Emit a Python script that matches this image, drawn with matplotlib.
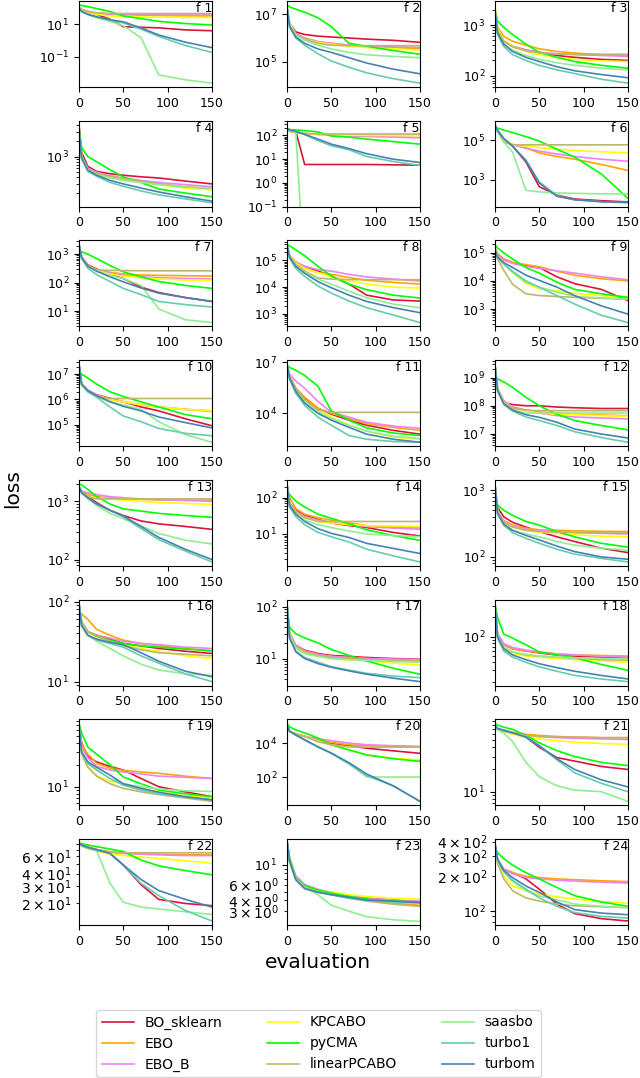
import matplotlib
matplotlib.use("Agg")
import matplotlib.pyplot as plt

evals = [0, 3, 10, 20, 35, 50, 70, 90, 120, 150]

methods = ["BO_sklearn", "EBO", "EBO_B", "KPCABO", "pyCMA",
           "linearPCABO", "saasbo", "turbo1", "turbom"]
colors = ["crimson", "orange", "violet", "yellow", "lime",
          "darkkhaki", "lightgreen", "mediumaquamarine", "steelblue"]

# one row per method, same order as `methods`
f1 = [[100, 70, 55, 40, 20, 7, 6.5, 6, 4.5, 4],
      [110, 80, 60, 45, 40, 38, 36, 34, 32, 32],
      [110, 80, 60, 45, 40, 40, 38, 37, 37, 37],
      [100, 75, 55, 40, 32, 30, 28, 27, 26, 26],
      [150, 140, 120, 90, 60, 32, 22, 15, 11, 9],
      [110, 80, 60, 50, 46, 45, 45, 45, 45, 45],
      [100, 60, 40, 25, 15, 8, 1.5, 0.008, 0.004, 0.0025],
      [100, 60, 40, 28, 18, 12, 5, 1.8, 0.5, 0.19],
      [100, 60, 40, 28, 19, 14, 6, 2.2, 0.8, 0.37]]
f2 = [[2e7, 4e6, 1.8e6, 1.4e6, 1.2e6, 1.1e6, 1e6, 9e5, 8e5, 6.6e5],
      [2e7, 4e6, 1.5e6, 1e6, 7e5, 6e5, 5e5, 4.5e5, 4e5, 3.5e5],
      [2e7, 4e6, 1.5e6, 1e6, 7e5, 6e5, 5e5, 4.6e5, 4.3e5, 4e5],
      [2e7, 4e6, 1.4e6, 9e5, 6.5e5, 5.5e5, 4.5e5, 4e5, 3.5e5, 3.1e5],
      [2.4e7, 2e7, 1.6e7, 1.2e7, 7e6, 3e6, 6e5, 4.5e5, 3e5, 2.1e5],
      [2e7, 4e6, 1.4e6, 9e5, 6e5, 5e5, 4.8e5, 4.8e5, 4.8e5, 4.8e5],
      [2e7, 4e6, 1.3e6, 8e5, 5e5, 3.5e5, 2.5e5, 2e5, 1.7e5, 1.5e5],
      [2e7, 3e6, 1e6, 5e5, 2.2e5, 1.1e5, 6e4, 3.5e4, 2e4, 1.3e4],
      [2e7, 3e6, 1.1e6, 6e5, 3.5e5, 2.5e5, 1.5e5, 9e4, 5e4, 3.2e4]]
f3 = [[2000, 800, 480, 380, 320, 290, 250, 230, 210, 200],
      [2200, 900, 600, 480, 400, 340, 300, 280, 260, 250],
      [2000, 800, 480, 380, 320, 290, 270, 260, 250, 240],
      [2500, 850, 500, 380, 300, 260, 230, 210, 195, 190],
      [2000, 1200, 900, 650, 420, 290, 230, 190, 160, 140],
      [2000, 800, 480, 370, 310, 280, 270, 265, 265, 265],
      [2000, 700, 420, 320, 250, 210, 180, 160, 140, 130],
      [2000, 650, 380, 260, 200, 160, 130, 110, 85, 71],
      [2000, 700, 420, 300, 230, 190, 150, 125, 105, 91]]
f4 = [[4100, 1200, 650, 520, 470, 440, 410, 390, 340, 300],
      [3000, 1000, 580, 480, 420, 380, 340, 300, 260, 235],
      [3000, 1000, 600, 500, 430, 390, 350, 320, 290, 265],
      [3000, 900, 550, 460, 400, 360, 320, 290, 250, 230],
      [3500, 1500, 1000, 800, 560, 410, 320, 240, 200, 170],
      [3000, 1000, 580, 480, 420, 380, 340, 300, 265, 245],
      [3000, 1000, 560, 450, 390, 350, 320, 290, 260, 250],
      [3000, 900, 520, 420, 320, 270, 220, 185, 155, 130],
      [3000, 950, 550, 440, 350, 300, 250, 210, 170, 140]]
f5 = [[200, 170, 150, 6, 6, 6, 6, 6, 5.8, 5.6],
      [200, 150, 130, 120, 110, 105, 102, 100, 100, 100],
      [200, 150, 130, 120, 110, 100, 95, 90, 85, 80],
      [200, 150, 130, 120, 110, 105, 102, 100, 100, 100],
      [180, 175, 170, 160, 140, 95, 85, 70, 55, 43],
      [200, 150, 130, 120, 115, 115, 115, 115, 115, 115],
      [200, 170, 130, 1e-4, 1e-4, 1e-4, 1e-4, 1e-4, 1e-4, 1e-4],
      [200, 170, 150, 110, 60, 37, 25, 13, 8, 5.5],
      [200, 170, 150, 110, 70, 43, 28, 17, 10, 7.3]]
f6 = [[6e5, 3e5, 1.2e5, 5e4, 8e3, 460, 170, 110, 90, 78],
      [6e5, 3e5, 1e5, 6e4, 4e4, 2.3e4, 1.5e4, 1.1e4, 6e3, 3e3],
      [6e5, 3e5, 1e5, 6e4, 4e4, 2.8e4, 2e4, 1.5e4, 1.1e4, 8.7e3],
      [6e5, 3e5, 1e5, 6e4, 5e4, 4.2e4, 3.5e4, 3e4, 2.6e4, 2.3e4],
      [4.5e5, 4e5, 3.2e5, 2.4e5, 1.5e5, 9e4, 3.5e4, 1.4e4, 2e3, 120],
      [6e5, 3e5, 8e4, 5.8e4, 5.8e4, 5.8e4, 5.8e4, 5.8e4, 5.8e4, 5.8e4],
      [6e5, 2.5e5, 8e4, 2.5e4, 300, 250, 220, 210, 200, 200],
      [6e5, 3e5, 1.2e5, 5e4, 1e4, 800, 160, 100, 80, 70],
      [6e5, 3e5, 1.2e5, 5e4, 9e3, 700, 150, 100, 80, 74]]
f7 = [[2200, 800, 420, 300, 200, 140, 70, 45, 30, 22],
      [2200, 800, 400, 280, 230, 200, 185, 180, 175, 170],
      [2200, 800, 400, 280, 220, 180, 160, 150, 140, 135],
      [2200, 800, 380, 260, 200, 170, 150, 135, 125, 120],
      [1300, 1200, 1000, 700, 400, 240, 160, 110, 80, 63],
      [2200, 800, 400, 280, 270, 265, 262, 260, 260, 260],
      [2200, 750, 380, 260, 180, 140, 80, 12, 5, 4],
      [2200, 700, 320, 190, 110, 63, 38, 22, 17, 14],
      [2200, 750, 380, 250, 160, 107, 65, 43, 30, 22]]
f8 = [[4e5, 1.5e5, 8e4, 6e4, 4e4, 2.6e4, 1.3e4, 5e3, 3.3e3, 3e3],
      [4e5, 1.5e5, 8e4, 5e4, 3.5e4, 3e4, 2.3e4, 1.8e4, 1.5e4, 1.3e4],
      [4e5, 1.5e5, 9e4, 6e4, 4.5e4, 4e4, 3e4, 2.4e4, 2e4, 1.7e4],
      [4e5, 1.5e5, 8e4, 5e4, 3.5e4, 2.5e4, 1.7e4, 1.3e4, 1e4, 9.2e3],
      [4e5, 3.5e5, 2.5e5, 1.5e5, 6e4, 2.6e4, 1.3e4, 8e3, 5e3, 3.9e3],
      [4e5, 1.5e5, 7e4, 4e4, 2.2e4, 2e4, 1.9e4, 1.9e4, 1.9e4, 1.9e4],
      [4e5, 1.3e5, 6e4, 3.5e4, 2e4, 1.3e4, 7e3, 4e3, 2.3e3, 1.7e3],
      [4e5, 1.2e5, 5e4, 2.5e4, 1.1e4, 6e3, 3e3, 1.7e3, 900, 470],
      [4e5, 1.3e5, 6e4, 3.3e4, 1.6e4, 9.5e3, 5e3, 2.9e3, 1.7e3, 1.1e3]]
f9 = [[1.5e5, 9e4, 6e4, 4.5e4, 3.5e4, 3e4, 1.4e4, 8e3, 5e3, 2e3],
      [1.5e5, 9e4, 6e4, 4.5e4, 3.8e4, 3.2e4, 2.2e4, 1.6e4, 1.2e4, 1e4],
      [1.3e5, 8e4, 5.5e4, 4.2e4, 3.3e4, 2.8e4, 2.3e4, 1.9e4, 1.4e4, 1.1e4],
      [1.3e5, 7e4, 4e4, 2e4, 8e3, 5.3e3, 4.5e3, 3.6e3, 3e3, 2.7e3],
      [2e5, 1.5e5, 1e5, 6e4, 3e4, 1.9e4, 9e3, 5e3, 3.5e3, 2.6e3],
      [1.3e5, 6e4, 2.4e4, 7.6e3, 3.5e3, 3e3, 2.8e3, 2.6e3, 2.4e3, 2.2e3],
      [1.3e5, 7e4, 4e4, 2e4, 9e3, 6e3, 4e3, 2.8e3, 2.5e3, 2.3e3],
      [1.3e5, 7e4, 4e4, 2.2e4, 1e4, 6e3, 3e3, 1.5e3, 600, 330],
      [1.3e5, 7e4, 4.5e4, 3e4, 1.6e4, 1.05e4, 6e3, 3e3, 1.3e3, 660]]
f10 = [[2.5e7, 4e6, 2.3e6, 1.5e6, 1.1e6, 8e5, 5e5, 3.5e5, 1.7e5, 9e4],
       [2.5e7, 4e6, 2.3e6, 1.5e6, 1e6, 8e5, 6e5, 5e5, 4e5, 3.3e5],
       [2.5e7, 4e6, 2.3e6, 1.5e6, 1e6, 8e5, 6e5, 5e5, 4e5, 3.5e5],
       [2.5e7, 3.5e6, 2e6, 1.3e6, 1e6, 8e5, 6e5, 5e5, 4e5, 3.5e5],
       [1.2e7, 1e7, 7e6, 4e6, 2e6, 1.3e6, 8e5, 5e5, 2.5e5, 1.7e5],
       [2.5e7, 4e6, 2e6, 1.3e6, 1.08e6, 1.08e6, 1.08e6, 1.08e6, 1.08e6, 1.08e6],
       [2.5e7, 4e6, 2e6, 1.3e6, 8e5, 6e5, 4e5, 1.3e5, 4e4, 2e4],
       [2.5e7, 4e6, 2e6, 1.2e6, 5e5, 2.2e5, 1.3e5, 7e4, 4.5e4, 3.6e4],
       [2.5e7, 4e6, 2.2e6, 1.4e6, 8e5, 5.3e5, 3.5e5, 2e5, 1.2e5, 7.4e4]]
f11 = [[8e6, 1.5e6, 3e5, 8e4, 2e4, 9e3, 4e3, 2e3, 1e3, 600],
       [8e6, 1.5e6, 3e5, 9e4, 2e4, 1e4, 5e3, 2.5e3, 1.5e3, 1e3],
       [8e6, 2e6, 8e5, 3e5, 5e4, 1.2e4, 6e3, 3e3, 1.8e3, 1.3e3],
       [8e6, 1.2e6, 2e5, 6e4, 1.5e4, 6e3, 2e3, 900, 400, 300],
       [7e6, 5e6, 3.5e6, 1.7e6, 4e5, 1.4e4, 4e3, 1.4e3, 700, 500],
       [8e6, 1.5e6, 3e5, 6e4, 1.6e4, 1.15e4, 1.15e4, 1.15e4, 1.15e4, 1.15e4],
       [8e6, 1.2e6, 2e5, 5e4, 1.2e4, 5e3, 2e3, 900, 450, 330],
       [8e6, 1e6, 1.5e5, 3e4, 6e3, 2e3, 500, 300, 220, 200],
       [8e6, 1.2e6, 2e5, 4e4, 1e4, 4e3, 1.5e3, 600, 300, 200]]
f12 = [[3e9, 4e8, 1.3e8, 1.1e8, 1e8, 1e8, 9e7, 8.5e7, 8e7, 8e7],
       [3e9, 4e8, 1.5e8, 9e7, 7e7, 6e7, 5.5e7, 5e7, 4.7e7, 4.4e7],
       [3e9, 4e8, 1.5e8, 9e7, 7e7, 5.5e7, 4.5e7, 4e7, 3.7e7, 3.4e7],
       [3e9, 4e8, 1.3e8, 8e7, 6.5e7, 5.5e7, 5e7, 4.8e7, 4.5e7, 4.2e7],
       [1e9, 9e8, 7e8, 4.5e8, 2e8, 1e8, 5e7, 3e7, 2e7, 1.4e7],
       [3e9, 4e8, 1.2e8, 8e7, 7e7, 6.7e7, 6.7e7, 6.7e7, 6.7e7, 6.7e7],
       [3e9, 3.5e8, 1.2e8, 7e7, 5.5e7, 5.5e7, 5.5e7, 5.5e7, 5.5e7, 5.5e7],
       [3e9, 3.5e8, 1.1e8, 6.5e7, 4e7, 3e7, 2e7, 1.2e7, 7.5e6, 5.1e6],
       [3e9, 3.5e8, 1.2e8, 7e7, 4.8e7, 3.9e7, 2.6e7, 1.5e7, 1e7, 7.2e6]]
f13 = [[1800, 1500, 1200, 950, 700, 570, 460, 410, 370, 330],
       [1800, 1500, 1300, 1200, 1150, 1100, 1080, 1060, 1050, 1040],
       [1800, 1500, 1400, 1300, 1200, 1150, 1100, 1060, 1030, 1000],
       [1800, 1400, 1200, 1150, 1100, 1050, 1000, 950, 920, 885],
       [2000, 1900, 1600, 1200, 900, 740, 680, 620, 570, 530],
       [1800, 1400, 1200, 1100, 1100, 1100, 1100, 1100, 1100, 1100],
       [1800, 1400, 1100, 850, 620, 500, 380, 280, 215, 185],
       [1800, 1400, 1150, 900, 700, 540, 340, 220, 140, 91],
       [1800, 1400, 1150, 900, 700, 560, 370, 240, 150, 100]]
f14 = [[240, 70, 45, 33, 25, 20, 17, 15, 11, 8.8],
       [240, 100, 50, 35, 28, 24, 20, 17, 15.5, 14.6],
       [240, 70, 42, 30, 24, 21, 18, 16, 14.5, 13.5],
       [240, 65, 40, 28, 22, 20, 18, 17, 16.5, 16],
       [145, 120, 80, 55, 35, 27, 19, 13, 9, 6.7],
       [240, 65, 40, 28, 22, 22, 22, 22, 22, 22],
       [240, 60, 35, 24, 18, 15, 12, 10, 9, 8.4],
       [240, 55, 30, 18, 11, 8.4, 6, 3.8, 2.5, 1.7],
       [240, 60, 35, 22, 14, 10.4, 8, 5.5, 4, 2.9]]
f15 = [[1250, 550, 400, 330, 280, 240, 200, 170, 135, 116],
       [1250, 500, 350, 300, 270, 255, 250, 245, 242, 240],
       [1250, 500, 340, 290, 260, 250, 240, 232, 225, 220],
       [1250, 480, 330, 280, 250, 235, 225, 215, 205, 200],
       [670, 600, 500, 420, 340, 300, 240, 200, 160, 140],
       [1250, 480, 330, 280, 250, 240, 235, 232, 230, 230],
       [1250, 450, 300, 250, 220, 200, 170, 150, 135, 126],
       [1250, 450, 300, 230, 190, 160, 130, 110, 95, 84],
       [1250, 450, 310, 250, 210, 180, 145, 120, 100, 92]]
f16 = [[95, 55, 42, 38, 34, 30, 28, 26, 24, 22.5],
       [75, 70, 60, 45, 38, 33, 30, 28, 26, 24],
       [95, 55, 42, 38, 35, 32, 30, 29, 27, 26],
       [95, 55, 42, 36, 32, 29, 26, 24, 21, 19.5],
       [95, 55, 42, 37, 33, 30, 28, 27, 25.5, 24.5],
       [95, 55, 42, 37, 32, 28, 25, 23, 22, 21],
       [95, 50, 38, 32, 26, 21, 16.5, 14, 12.5, 12],
       [95, 50, 38, 33, 30, 27, 21, 17, 12.5, 10],
       [95, 50, 38, 34, 31, 29, 23, 18, 13.5, 11.5]]
f17 = [[115, 30, 18, 14.5, 12.5, 11.5, 11, 10.5, 10, 9.7],
       [115, 30, 18, 14, 12, 11, 10.5, 10, 9.5, 9.2],
       [115, 30, 18, 14, 12, 11, 10.5, 10, 9.8, 9.6],
       [115, 28, 16, 12.5, 11, 10, 9.5, 9, 8.2, 7.5],
       [100, 40, 30, 25, 20, 15, 11.5, 9, 6.5, 5],
       [115, 28, 17, 13.5, 11.5, 10.5, 10, 9.5, 9.2, 9],
       [115, 28, 16, 12.5, 11, 10, 9.5, 9.2, 8.8, 8.5],
       [115, 25, 14, 10.5, 8.5, 7, 6, 5.2, 4.6, 4.3],
       [115, 25, 13.5, 10, 8, 6.8, 5.8, 5, 4.2, 3.6]]
f18 = [[330, 110, 75, 65, 60, 56, 52, 50, 48, 47],
       [330, 110, 75, 65, 60, 57, 54, 52, 51, 50],
       [330, 110, 78, 68, 62, 58, 54, 52, 50, 48],
       [330, 100, 65, 55, 50, 48, 46, 44, 42, 40],
       [330, 200, 110, 95, 75, 58, 52, 47, 37, 30],
       [330, 100, 68, 58, 52, 50, 48, 46, 44, 43],
       [330, 100, 68, 58, 53, 50, 48, 47, 46, 45],
       [330, 95, 60, 48, 40, 34, 29, 25, 22, 20],
       [330, 100, 65, 52, 44, 38, 33, 29, 25, 22]]
f19 = [[70, 40, 26, 22, 19, 17, 13, 10, 8.5, 7.3],
       [70, 38, 28, 21, 18, 16.8, 16, 15.3, 14, 13],
       [70, 35, 25, 19, 17, 16, 15, 14, 13.5, 13],
       [70, 30, 19, 14, 12, 11, 9.5, 8.5, 7.5, 7],
       [75, 55, 35, 28, 20, 13.6, 11, 9, 8, 7.3],
       [70, 28, 18.6, 14, 11, 9.5, 8.5, 7.8, 7, 6.3],
       [70, 30, 21, 17, 13, 11, 10, 9.3, 8.8, 8.6],
       [70, 30, 21, 17, 13, 10.5, 9, 8, 7.2, 6.6],
       [70, 30, 22, 18.5, 14.5, 11, 9.5, 8.4, 7.3, 6.6]]
f20 = [[1.2e5, 5e4, 3.5e4, 2.5e4, 1.5e4, 1e4, 7e3, 5e3, 3.5e3, 2.5e3],
       [1.2e5, 5e4, 3.5e4, 2.5e4, 1.5e4, 1.1e4, 8e3, 7e3, 6.5e3, 6e3],
       [1.2e5, 5e4, 3.5e4, 2.5e4, 1.8e4, 1.4e4, 1e4, 8e3, 7e3, 6.4e3],
       [1.2e5, 5e4, 3.5e4, 2.5e4, 1.3e4, 8e3, 4e3, 2e3, 1.3e3, 1e3],
       [1.5e5, 9e4, 6e4, 4e4, 2e4, 8e3, 4e3, 2e3, 1.2e3, 840],
       [1.2e5, 5e4, 3.5e4, 2.5e4, 1.2e4, 8e3, 6e3, 5.8e3, 5.8e3, 5.8e3],
       [1.2e5, 5e4, 3e4, 1.5e4, 6e3, 2.5e3, 600, 100, 100, 100],
       [1.2e5, 5e4, 3e4, 1.5e4, 6e3, 2.5e3, 600, 120, 30, 3.7],
       [1.2e5, 5e4, 3e4, 1.6e4, 6e3, 2.6e3, 700, 150, 30, 3.7]]
f21 = [[80, 70, 66, 62, 55, 40, 29, 26, 22, 20],
       [80, 72, 68, 64, 60, 58, 56, 55, 54, 54],
       [80, 72, 68, 63, 58, 56, 54, 53, 52, 51],
       [80, 70, 66, 60, 55, 52, 49, 47, 45, 44],
       [85, 80, 75, 70, 58, 46, 36, 30, 25, 22.6],
       [80, 70, 66, 62, 58, 56, 55, 55, 54, 54],
       [80, 70, 62, 48, 25, 16, 12, 10.5, 10, 7.4],
       [80, 72, 68, 63, 55, 42, 27, 18, 13, 10],
       [80, 72, 68, 63, 55, 42, 28, 20, 14.5, 11.6]]
f22 = [[82, 78, 74, 70, 64, 49, 31, 22, 20, 19],
       [82, 78, 74, 70, 67, 65, 64, 63, 62, 62],
       [82, 78, 74, 70, 66, 64, 63, 62, 61, 61],
       [82, 76, 72, 68, 63, 61, 59, 57, 54, 51],
       [82, 80, 78, 75, 71, 67, 55, 48, 43, 39],
       [82, 76, 72, 68, 66, 65, 65, 65, 65, 65],
       [82, 78, 74, 68, 32, 20.6, 18.4, 17.6, 16.5, 15.5],
       [82, 78, 74, 70, 64, 49, 32, 24, 17, 13.3],
       [82, 78, 74, 70, 64, 49, 35, 27, 22, 18.4]]
f23 = [[19, 11, 7, 5.6, 5.1, 4.8, 4.4, 4.2, 4.0, 3.8],
       [19, 11, 7, 5.7, 5.2, 4.8, 4.3, 4.0, 3.7, 3.5],
       [19, 12, 7.5, 6, 5.3, 4.9, 4.5, 4.2, 4.0, 3.9],
       [19, 11, 7, 5.6, 5.2, 4.9, 4.6, 4.4, 4.2, 4.1],
       [19, 12, 7.2, 5.8, 5.2, 4.8, 4.4, 4.1, 3.9, 3.8],
       [19, 11, 7, 5.5, 5.0, 4.6, 4.2, 3.9, 3.6, 3.4],
       [19, 11, 7, 5.6, 4.6, 3.5, 3.0, 2.6, 2.4, 2.3],
       [19, 11, 6.8, 5.4, 4.9, 4.6, 4.2, 4.0, 3.8, 3.7],
       [19, 11, 6.8, 5.4, 4.9, 4.6, 4.3, 4.0, 3.9, 3.75]]
f24 = [[390, 280, 230, 215, 190, 155, 115, 95, 86, 82],
       [390, 280, 230, 215, 200, 195, 190, 187, 183, 180],
       [390, 280, 230, 210, 195, 190, 185, 182, 178, 175],
       [390, 260, 200, 165, 150, 140, 133, 127, 121, 117],
       [360, 320, 285, 250, 215, 190, 160, 136, 120, 110],
       [390, 260, 190, 150, 130, 122, 115, 111, 109, 107],
       [390, 270, 220, 180, 150, 135, 125, 115, 110, 107],
       [390, 280, 220, 185, 155, 130, 110, 97, 90, 87],
       [390, 280, 225, 195, 165, 145, 120, 103, 96, 93]]

problems = [f1, f2, f3, f4, f5, f6, f7, f8, f9, f10, f11, f12,
            f13, f14, f15, f16, f17, f18, f19, f20, f21, f22, f23, f24]

# a few panels had their y range / decade ticks fixed by hand
ylims = {5: (0.1, None), 23: (2.1, 19.6)}
yticks = {11: [1e4, 1e7]}

fig, axes = plt.subplots(8, 3, figsize=(6.4, 10.78), dpi=100)
fig.subplots_adjust(left=0.1234, right=0.981, top=0.999, bottom=0.142,
                    wspace=0.564, hspace=0.392)

for k, (ax, data) in enumerate(zip(axes.flat, problems), start=1):
    for name, col, ys in zip(methods, colors, data):
        ax.plot(evals, ys, color=col, lw=1.2, label=name)
    ax.set_yscale("log")
    ax.set_xlim(0, 150)
    ax.set_xticks([0, 50, 100, 150])
    if k in ylims:
        ax.set_ylim(*ylims[k])
    if k in yticks:
        ax.set_yticks(yticks[k])
    ax.tick_params(labelsize=9)
    ax.text(1.0, 0.99, f"f {k}", transform=ax.transAxes,
            ha="right", va="top", fontsize=9)

fig.text(0.02, 0.547, "loss", rotation=90, ha="center", va="center", fontsize=14.5)
fig.text(0.497, 1 - 963 / 1078, "evaluation", ha="center", va="center", fontsize=14.5)

handles, labels = axes[0, 0].get_legend_handles_labels()
fig.legend(handles, labels, ncol=3, loc="upper center",
           bbox_to_anchor=(0.4977, 1 - 1003 / 1078), fontsize=10,
           handlelength=2.3, columnspacing=3.2)

plt.savefig("out.png")
